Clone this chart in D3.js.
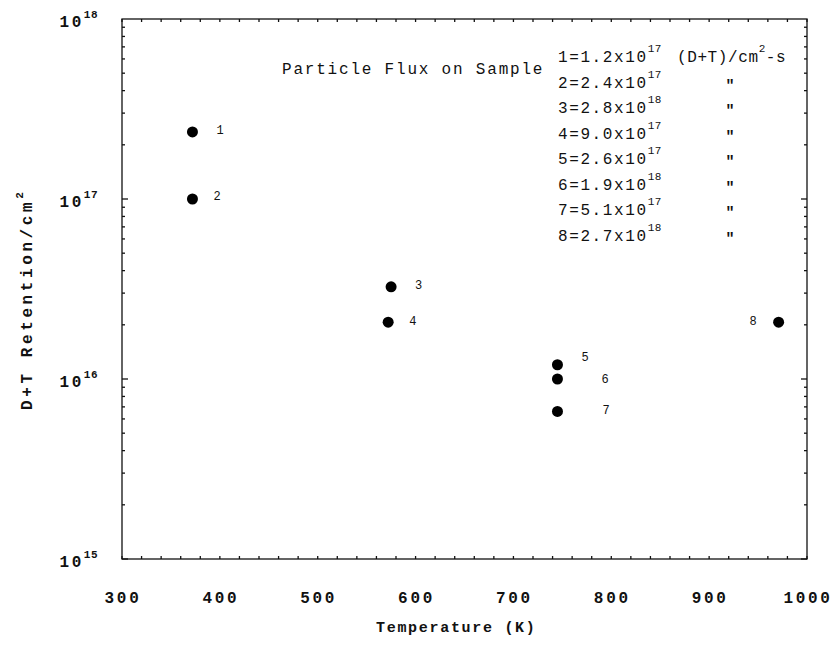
<!DOCTYPE html>
<html>
<head>
<meta charset="utf-8">
<script src="https://cdn.jsdelivr.net/npm/d3@7"></script>
<style>
  body { margin: 0; background: #fff; }
  text { font-family: "Liberation Mono", "DejaVu Sans Mono", monospace; fill: #111; }
</style>
</head>
<body>
<script>
// values
const temps = [372, 372, 575, 572, 745, 745, 745, 971]
const retention = [2.36e17, 1.0e17, 3.25e16, 2.07e16, 1.2e16, 1.0e16, 6.6e15, 2.07e16]
const pointLabels = ["1", "2", "3", "4", "5", "6", "7", "8"]
const fluxMant = ["1.2", "2.4", "2.8", "9.0", "2.6", "1.9", "5.1", "2.7"]
const fluxExp = ["17", "17", "18", "17", "17", "18", "17", "18"]
const xTicks = [300, 400, 500, 600, 700, 800, 900, 1000]
const yTicks = [1e15, 1e16, 1e17, 1e18]

const W = 836, H = 656
const pLeft = 122, pTop = 19, pRight = 807, pBottom = 559

const svg = d3.select("body")
    .append("svg")
    .attr("width", W)
    .attr("height", H)

const x = d3.scaleLinear().domain([300, 1000]).range([pLeft, pRight])
const y = d3.scaleLog().domain([1e15, 1e18]).range([pBottom, pTop])

// minor ticks
const xMinor = d3.range(300, 1001, 20)
const yMinor = []
for (let e = 15; e < 18; e++) for (let m = 1; m < 10; m++) yMinor.push(m * Math.pow(10, e))

const frame = svg.append("g").attr("stroke", "#111").attr("stroke-width", 1.3)

frame.selectAll(".xb").data(xMinor).enter().append("line")
    .attr("x1", d => x(d)).attr("x2", d => x(d))
    .attr("y1", pBottom).attr("y2", pBottom - 3)
frame.selectAll(".xt").data(xMinor).enter().append("line")
    .attr("x1", d => x(d)).attr("x2", d => x(d))
    .attr("y1", pTop).attr("y2", pTop + 3)
frame.selectAll(".yl").data(yMinor).enter().append("line")
    .attr("y1", d => y(d)).attr("y2", d => y(d))
    .attr("x1", pLeft).attr("x2", d => pLeft + (yTicks.includes(d) ? 6 : 3))
frame.selectAll(".yr").data(yMinor).enter().append("line")
    .attr("y1", d => y(d)).attr("y2", d => y(d))
    .attr("x1", pRight).attr("x2", d => pRight - (yTicks.includes(d) ? 6 : 3))

frame.append("rect")
    .attr("x", pLeft).attr("y", pTop)
    .attr("width", pRight - pLeft).attr("height", pBottom - pTop)
    .attr("fill", "none")

// x tick labels
svg.selectAll(".xl").data(xTicks).enter().append("text")
    .attr("x", d => x(d) + 1)
    .attr("y", 603)
    .attr("text-anchor", "middle")
    .attr("font-size", 16)
    .attr("font-weight", "bold")
    .attr("letter-spacing", 2.7)
    .text(d => d)

// y tick labels 10^n
yTicks.forEach(d => {
    const t = svg.append("text")
        .attr("x", 98)
        .attr("y", y(d) + 8)
        .attr("text-anchor", "end")
        .attr("font-size", 16)
        .attr("font-weight", "bold")
        .attr("letter-spacing", 2.5)
    t.append("tspan").text("10")
    t.append("tspan").attr("dy", -9).attr("font-size", 11)
        .attr("letter-spacing", 0.5).text(Math.round(Math.log10(d)))
})

// axis titles
svg.append("text")
    .attr("x", 376).attr("y", 632)
    .attr("font-size", 15)
    .attr("font-weight", "bold")
    .attr("letter-spacing", 1.7)
    .text("Temperature (K)")

const yt = svg.append("text")
    .attr("transform", "translate(32,410) rotate(-90)")
    .attr("font-size", 16)
    .attr("font-weight", "bold")
    .attr("letter-spacing", 3.6)
yt.append("tspan").text("D+T Retention/cm")
yt.append("tspan").attr("dy", -9).attr("font-size", 11).text("2")

// points
svg.selectAll(".dot").data(temps).enter().append("circle")
    .attr("cx", d => x(d))
    .attr("cy", (d, i) => y(retention[i]))
    .attr("r", 5.5)
    .attr("fill", "#000")

const labelDx = [24, 21, 24, 21, 24, 44, 45, -22]
const labelDy = [-2, -3, -2, -1, -8, 0, -1, -1]
svg.selectAll(".pl").data(pointLabels).enter().append("text")
    .attr("x", (d, i) => x(temps[i]) + labelDx[i])
    .attr("y", (d, i) => y(retention[i]) + labelDy[i] + 4)
    .attr("text-anchor", (d, i) => labelDx[i] < 0 ? "end" : "start")
    .attr("font-size", 12)
    .attr("font-family", "Liberation Sans, Arial, sans-serif")
    .text(d => d)

// legend
svg.append("text")
    .attr("x", 282).attr("y", 74)
    .attr("font-size", 16)
    .attr("letter-spacing", 1.8)
    .text("Particle Flux on Sample")

const rowY = d3.scaleLinear().domain([0, 7]).range([62, 241])
pointLabels.forEach((p, i) => {
    const t = svg.append("text")
        .attr("x", 558).attr("y", rowY(i))
        .attr("font-size", 16)
        .attr("letter-spacing", 1.6)
    t.append("tspan").text(p + "=" + fluxMant[i] + "x10")
    t.append("tspan").attr("dy", -10).attr("font-size", 11)
        .attr("letter-spacing", 0.5).text(fluxExp[i])
    if (i === 0) {
        const u = svg.append("text")
            .attr("x", 677).attr("y", rowY(i))
            .attr("font-size", 16)
            .attr("letter-spacing", 0.6)
        u.append("tspan").text("(D+T)/cm")
        u.append("tspan").attr("dy", -10).attr("font-size", 11).text("2")
        u.append("tspan").attr("dy", 10).text("-s")
    } else {
        svg.append("text")
            .attr("x", 730).attr("y", rowY(i) + 2)
            .attr("text-anchor", "middle")
            .attr("font-size", 15)
            .attr("font-weight", "bold")
            .text("\"")
    }
})
</script>
</body>
</html>
